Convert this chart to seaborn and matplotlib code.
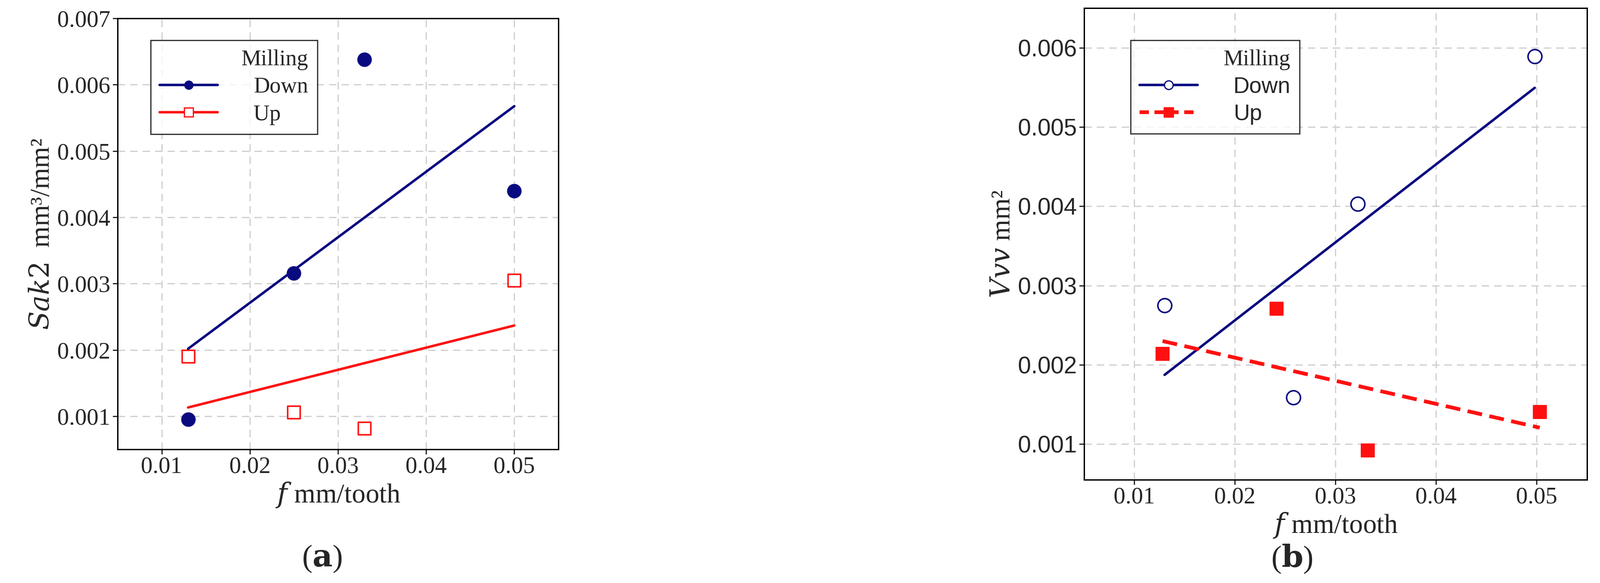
import numpy as np
import pandas as pd
import seaborn as sns
import matplotlib.pyplot as plt
from matplotlib.lines import Line2D

# panel (a): Sak2
a_down_f = [0.013, 0.025, 0.033, 0.050]
a_down_y = [0.00095, 0.00316, 0.00638, 0.00440]
a_up_f = [0.013, 0.025, 0.033, 0.050]
a_up_y = [0.00190, 0.00106, 0.00082, 0.00305]

# panel (b): Vvv
b_down_f = [0.0130, 0.0258, 0.0322, 0.0498]
b_down_y = [0.00275, 0.00159, 0.00403, 0.00589]
b_up_f = [0.0128, 0.0241, 0.0332, 0.0503]
b_up_y = [0.00214, 0.00271, 0.00092, 0.00141]

x_ticks = [0.01, 0.02, 0.03, 0.04, 0.05]
NAVY = '#0a0a80'
RED = '#ff1010'

sns.set_theme(style="white")
plt.rcParams['font.family'] = ['Liberation Serif', 'DejaVu Serif']
plt.rcParams['mathtext.fontset'] = 'dejavuserif'

fig = plt.figure(figsize=(35.8, 13.04), dpi=100)
ax_a = fig.add_axes([263 / 3580, 1 - 1005 / 1304, 986 / 3580, 964 / 1304])
ax_b = fig.add_axes([2425 / 3580, 1 - 1073 / 1304, 1125 / 3580, 1055 / 1304])


def style_axes(ax, ylim, yticks):
    ax.set_xlim(0.005, 0.055)
    ax.set_ylim(*ylim)
    ax.set_xticks(x_ticks)
    ax.set_xticklabels([f"{t:g}" for t in x_ticks], fontsize=38)
    ax.set_yticks(yticks)
    ax.grid(True, linestyle=(0, (6, 4)), color='#d0d0d0', linewidth=2)
    for s in ax.spines.values():
        s.set_color('black')
        s.set_linewidth(2.2)
    ax.tick_params(axis='both', direction='out', length=8, width=2, left=True, bottom=True)
    ax.set_xlabel(r"$f$ mm/tooth", fontsize=44)


# ---- (a)
sns.regplot(x=a_down_f, y=a_down_y, ax=ax_a, ci=None, color=NAVY,
            scatter_kws=dict(s=500, color=NAVY, alpha=1), line_kws=dict(lw=4))
sns.regplot(x=a_up_f, y=a_up_y, ax=ax_a, ci=None, color=RED, marker='s',
            scatter_kws=dict(s=420, facecolors='white', edgecolors=RED, linewidths=2.5, alpha=1),
            line_kws=dict(lw=4))
yt_a = [0.001, 0.002, 0.003, 0.004, 0.005, 0.006, 0.007]
style_axes(ax_a, (0.0005, 0.007), yt_a)
ax_a.set_yticklabels([f"{t:.3f}" for t in yt_a], fontsize=38)
ax_a.set_ylabel(r"$Sak2$  mm³/mm²", fontsize=44)
h_a = [Line2D([], [], color=NAVY, lw=4, marker='o', markersize=14),
       Line2D([], [], color=RED, lw=4, marker='s', markersize=14,
              markerfacecolor='white', markeredgecolor=RED, markeredgewidth=2)]
leg = ax_a.legend(h_a, ['Down', 'Up'], title='Milling', loc='upper left',
                  bbox_to_anchor=(0.05, 0.975), fontsize=36, title_fontsize=36,
                  frameon=True, fancybox=False, edgecolor='black', handlelength=2.6,
                  handletextpad=1.6, alignment='right', borderpad=0.4, labelspacing=0.3)
leg.get_frame().set_linewidth(2)

# ---- (b)
sns.regplot(x=b_down_f, y=b_down_y, ax=ax_b, ci=None, color=NAVY,
            scatter_kws=dict(s=500, facecolors='white', edgecolors=NAVY, linewidths=2.5, alpha=1),
            line_kws=dict(lw=4))
sns.regplot(x=b_up_f, y=b_up_y, ax=ax_b, ci=None, color=RED, marker='s',
            scatter_kws=dict(s=450, color=RED, alpha=1),
            line_kws=dict(lw=6, linestyle=(0, (4, 2))))
yt_b = [0.001, 0.002, 0.003, 0.004, 0.005, 0.006]
style_axes(ax_b, (0.00055, 0.0065), yt_b)
ax_b.set_yticklabels([f"{t:.3f}" for t in yt_b], fontsize=38,
                     family=['Liberation Sans', 'DejaVu Sans'])
ax_b.set_ylabel(r"$Vvv$ mm²", fontsize=44)
h_b = [Line2D([], [], color=NAVY, lw=4, marker='o', markersize=14,
              markerfacecolor='white', markeredgecolor=NAVY, markeredgewidth=2),
       Line2D([], [], color=RED, lw=6, linestyle=(0, (2.5, 1.5)), marker='s', markersize=16)]
leg = ax_b.legend(h_b, ['Down', 'Up'], title='Milling', loc='upper left',
                  bbox_to_anchor=(0.07, 0.955), title_fontsize=36,
                  frameon=True, fancybox=False, edgecolor='black', handlelength=2.6,
                  handletextpad=1.6, alignment='right', borderpad=0.4, labelspacing=0.3,
                  prop=dict(family='Liberation Sans', size=36))
leg.get_frame().set_linewidth(2)

fig.text(720 / 3580, 1 - 1250 / 1304, r"($\mathbf{a}$)", fontsize=50, ha='center', va='center')
fig.text(2890 / 3580, 1 - 1250 / 1304, r"($\mathbf{b}$)", fontsize=50, ha='center', va='center')

fig.savefig("out.png", dpi=100)
